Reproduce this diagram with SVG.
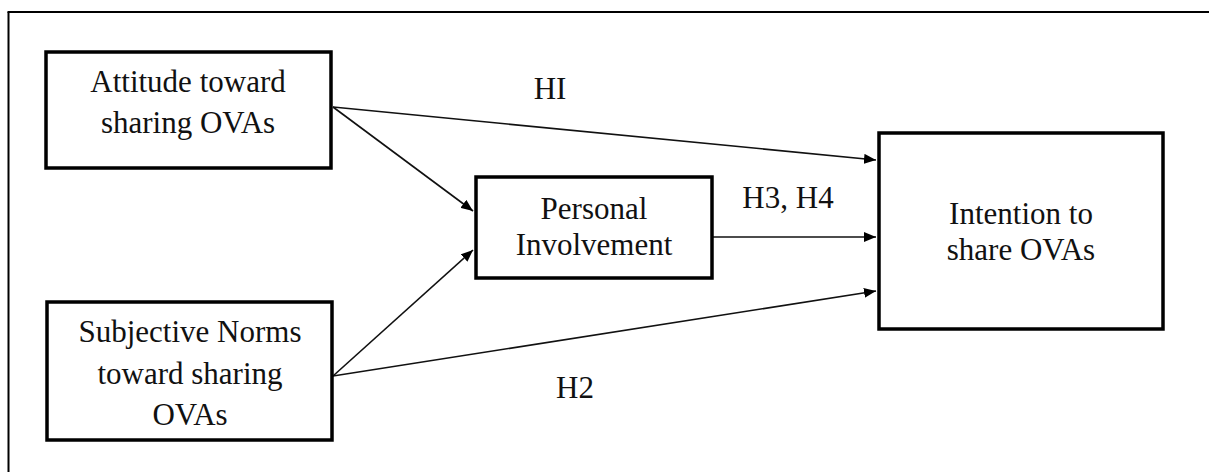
<svg xmlns="http://www.w3.org/2000/svg" width="1209" height="472" viewBox="0 0 1209 472">
<style>
.box{fill:#fff;stroke:#000;stroke-width:3.5}
.t{font-family:"Liberation Serif","Times New Roman",serif;font-size:31px;fill:#111;text-anchor:middle}
.c{stroke:#111;stroke-width:1.6;fill:none;marker-end:url(#ah)}
</style>
<defs>
<marker id="ah" viewBox="0 0 12 10" refX="12" refY="5" markerWidth="12" markerHeight="10" markerUnits="userSpaceOnUse" orient="auto">
<path d="M0,0 L12,5 L0,10 z" fill="#000"/>
</marker>
</defs>
<rect width="1209" height="472" fill="#fff"/>
<g id="frame">
<line x1="8.5" y1="12" x2="8.5" y2="472" stroke="#000" stroke-width="2"/>
<line x1="7.5" y1="12" x2="1209" y2="12" stroke="#000" stroke-width="2"/>
</g>
<g id="connectors">
<line class="c" x1="333" y1="107" x2="876" y2="160"/>
<line class="c" x1="333" y1="107" x2="473" y2="211"/>
<line class="c" x1="333" y1="376" x2="473" y2="250"/>
<line class="c" x1="333" y1="376" x2="876" y2="291"/>
<line class="c" x1="712" y1="237" x2="876" y2="237"/>
</g>
<g id="labels">
<text class="t" x="550" y="99">HI</text>
<text class="t" x="788" y="208">H3, H4</text>
<text class="t" x="575" y="398">H2</text>
</g>
<g id="attitude">
<rect class="box" x="46" y="52" width="285" height="116"/>
<text class="t" x="188" y="92">Attitude toward</text>
<text class="t" x="188" y="133">sharing OVAs</text>
</g>
<g id="subjective">
<rect class="box" x="47" y="302" width="285" height="138"/>
<text class="t" x="190" y="342">Subjective Norms</text>
<text class="t" x="190" y="384">toward sharing</text>
<text class="t" x="190" y="425">OVAs</text>
</g>
<g id="involvement">
<rect class="box" x="476" y="177" width="236" height="101"/>
<text class="t" x="594" y="219">Personal</text>
<text class="t" x="594" y="255">Involvement</text>
</g>
<g id="intention">
<rect class="box" x="879" y="133" width="284" height="196"/>
<text class="t" x="1021" y="224">Intention to</text>
<text class="t" x="1021" y="260">share OVAs</text>
</g>
</svg>
